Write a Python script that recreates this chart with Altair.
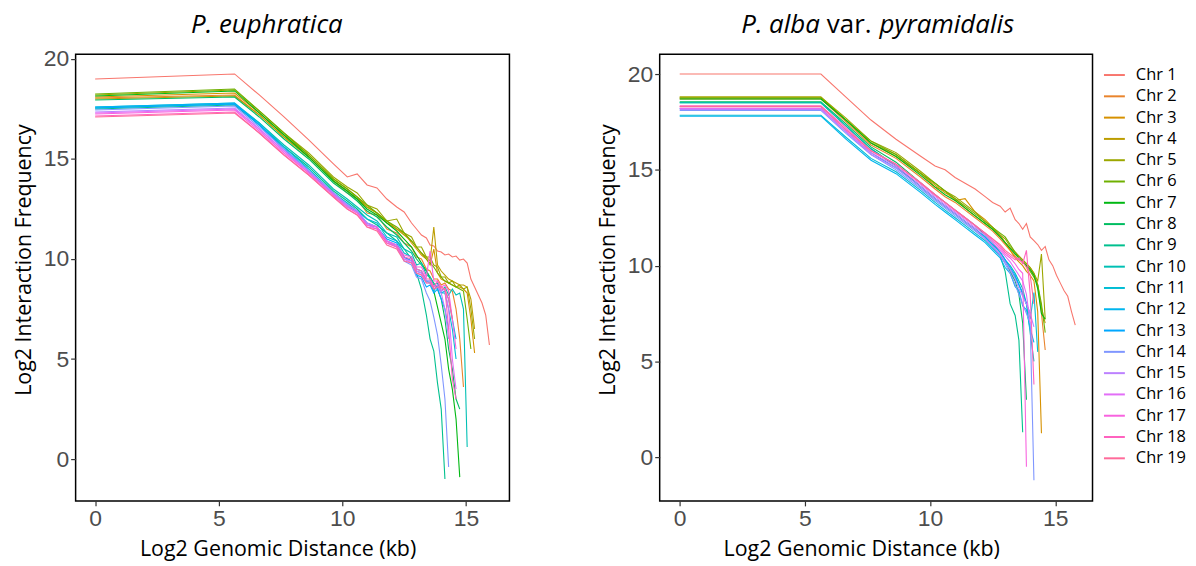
import math
import pandas as pd
import altair as alt

# shared x grid (log2 genomic distance, kb)
XG = [0, 5.64, 6.64, 7.64, 8.64, 9.64, 10.2, 10.6, 11.0, 11.4, 11.8, 12.2, 12.5, 12.8,
      13.0, 13.2, 13.4, 13.55, 13.7, 13.85, 14.0, 14.15, 14.3, 14.45, 14.6, 14.75, 14.9,
      15.05, 15.2, 15.35, 15.5, 15.65, 15.8, 15.95]

CHR = [f"Chr {i}" for i in range(1, 20)]

# P. euphratica : log2 interaction frequency per chromosome
EU = [
    [19.0, 19.25, 18.2, 17.1, 15.95, 14.75, 14.1, 14.25, 13.7, 13.55, 13.0, 12.6, 12.35, 11.8, 11.5, 11.2, 11.05, 10.7, 10.65, 10.4, 10.35, 10.2, 10.25, 10.1, 10.15, 9.95, 10.0, 9.8, 9.0, 8.6, 8.2, 7.8, 7.2, 5.7],
    [18.05, 18.2, 17.2, 16.1, 15.1, 13.9, 13.3, 13.0, 12.3, 12.2, 11.5, 11.3, 10.8, 10.6, 10.1, 10.0, 9.5, 9.4, 9.0, 9.0, 8.7, 8.8, 8.5, 8.4, 7.5, 6.0, 3.6],
    [18.1, 18.3, 17.3, 16.2, 15.2, 14.0, 13.5, 13.1, 12.6, 12.3, 11.8, 11.5, 11.3, 10.8, 10.5, 10.2, 10.0, 9.7, 10.5, 9.3, 9.0, 8.9, 8.8, 8.7, 8.6, 8.6, 8.5, 8.3, 7.0, 5.3],
    [18.0, 18.15, 17.2, 16.1, 15.1, 13.9, 13.4, 13.0, 12.6, 12.3, 11.9, 11.5, 11.2, 10.9, 10.6, 10.3, 10.1, 9.9, 11.6, 9.7, 9.4, 9.2, 9.0, 8.9, 8.8, 8.7, 8.7, 8.6, 8.0, 6.5],
    [18.2, 18.45, 17.4, 16.3, 15.3, 14.1, 13.6, 13.3, 12.7, 12.5, 11.9, 12.0, 11.3, 11.1, 10.6, 10.6, 10.1, 10.1, 9.7, 9.6, 9.1, 9.1, 8.8, 8.9, 8.6, 8.7, 8.5, 8.6, 7.5, 6.0],
    [18.25, 18.5, 17.4, 16.3, 15.2, 14.0, 13.5, 13.1, 12.7, 12.3, 11.9, 11.6, 11.3, 10.9, 10.6, 10.3, 10.0, 9.8, 9.6, 9.3, 9.1, 8.9, 8.8, 8.7, 8.6, 8.5, 8.4, 7.0, 5.5],
    [18.15, 18.4, 17.3, 16.2, 15.1, 13.9, 13.4, 13.0, 12.5, 12.2, 11.8, 11.4, 11.0, 10.6, 10.2, 9.8, 9.4, 9.0, 8.4, 7.6, 6.8, 6.0, 4.5, 3.5, 2.0, -0.9],
    [17.95, 18.1, 17.1, 16.0, 15.0, 13.8, 13.3, 12.9, 12.4, 12.1, 11.6, 11.2, 10.8, 10.4, 10.0, 9.7, 9.4, 9.1, 8.8, 8.5, 8.0, 7.0, 5.5, 4.5, 3.0, 2.5],
    [17.5, 17.7, 16.7, 15.6, 14.6, 13.4, 12.9, 12.5, 12.0, 11.7, 11.3, 10.9, 10.5, 10.0, 9.3, 8.5, 7.2, 6.0, 5.4, 3.8, 2.5, -1.0],
    [17.55, 17.75, 16.8, 15.7, 14.7, 13.5, 13.0, 12.6, 12.2, 11.9, 11.3, 11.1, 10.5, 10.3, 9.7, 9.8, 9.2, 9.1, 8.7, 8.8, 8.4, 8.6, 8.2, 8.5, 8.2, 8.3, 7.5, 0.6],
    [17.6, 17.8, 16.8, 15.6, 14.5, 13.3, 12.8, 12.4, 12.0, 11.8, 11.1, 10.9, 10.3, 10.1, 9.5, 9.4, 8.9, 8.8, 8.4, 8.7, 8.3, 8.3, 7.5, 6.5, 5.0],
    [17.6, 17.8, 16.7, 15.5, 14.4, 13.2, 12.6, 12.4, 11.7, 11.6, 10.9, 10.7, 10.1, 9.9, 9.4, 9.3, 8.9, 8.9, 8.5, 8.6, 8.3, 8.4, 8.0, 7.0, 6.0],
    [17.55, 17.75, 16.7, 15.5, 14.4, 13.3, 12.7, 12.4, 11.8, 11.6, 11.0, 10.8, 10.1, 9.9, 9.2, 9.1, 8.6, 8.7, 8.3, 8.5, 8.0, 7.5, 6.5],
    [17.45, 17.65, 16.6, 15.5, 14.4, 13.3, 12.7, 12.4, 11.8, 11.6, 10.9, 10.6, 9.9, 9.7, 9.1, 9.0, 8.3, 7.9, 7.1, 6.2, 4.7, 3.0, -0.4],
    [17.35, 17.55, 16.5, 15.4, 14.4, 13.3, 12.7, 12.4, 11.8, 11.6, 10.9, 10.6, 10.0, 9.8, 9.3, 9.2, 8.8, 8.8, 8.5, 8.6, 8.3, 7.5, 6.0],
    [17.3, 17.5, 16.5, 15.4, 14.3, 13.2, 12.6, 12.3, 11.7, 11.5, 10.8, 10.6, 10.0, 9.9, 9.4, 9.3, 8.9, 8.9, 8.6, 8.7, 8.4, 8.5, 7.5, 5.0, 3.5],
    [17.25, 17.45, 16.4, 15.3, 14.3, 13.2, 12.6, 12.3, 11.7, 11.6, 10.9, 10.7, 10.2, 10.1, 9.6, 9.6, 9.1, 10.4, 8.9, 8.9, 8.6, 8.7, 8.4, 7.0, 5.5],
    [17.15, 17.35, 16.3, 15.2, 14.2, 13.1, 12.5, 12.2, 11.6, 11.5, 10.8, 10.6, 10.1, 10.0, 9.5, 9.4, 9.0, 9.0, 8.6, 8.9, 8.5, 8.5, 6.5, 4.0, 3.0],
    [17.1, 17.3, 16.3, 15.2, 14.2, 13.1, 12.5, 12.2, 11.6, 11.4, 10.7, 10.5, 9.9, 9.8, 9.3, 9.2, 8.8, 8.8, 8.5, 8.6, 8.6, 8.5, 8.0, 7.0],
]

# P. alba var. pyramidalis
AL = [
    [20.0, 20.0, 18.8, 17.6, 16.6, 15.7, 15.2, 15.0, 14.6, 14.3, 14.0, 13.6, 13.3, 13.1, 12.8, 13.0, 12.4, 12.2, 11.9, 12.2, 11.5, 11.3, 11.1, 10.8, 11.0, 10.3, 10.0, 9.5, 9.1, 8.7, 8.4, 7.6, 6.9],
    [18.7, 18.7, 17.5, 16.3, 15.6, 14.6, 14.0, 13.6, 13.3, 12.9, 12.5, 12.1, 11.8, 11.4, 11.1, 10.8, 10.5, 10.3, 10.2, 10.0, 9.8, 9.5, 9.0, 7.5, 5.6],
    [18.75, 18.75, 17.6, 16.4, 15.7, 14.8, 14.1, 13.9, 13.4, 13.5, 12.8, 12.4, 12.0, 11.6, 11.2, 10.8, 10.4, 10.2, 10.0, 9.7, 9.5, 9.2, 7.6, 1.25],
    [18.8, 18.8, 17.6, 16.4, 15.8, 14.8, 14.2, 13.8, 13.5, 13.0, 12.6, 12.2, 11.9, 11.5, 11.2, 10.9, 10.7, 10.5, 10.3, 10.1, 9.9, 9.6, 9.0, 7.8, 7.0],
    [18.8, 18.8, 17.7, 16.5, 15.9, 14.9, 14.3, 13.9, 13.6, 13.2, 12.8, 12.3, 12.0, 11.6, 11.4, 11.0, 10.7, 10.5, 10.3, 10.1, 9.9, 9.6, 9.2, 10.6, 7.2],
    [18.75, 18.75, 17.6, 16.5, 15.8, 14.8, 14.3, 13.9, 13.5, 13.1, 12.7, 12.3, 12.0, 11.7, 11.5, 11.1, 10.7, 10.4, 10.2, 10.0, 9.7, 9.4, 9.0, 8.0, 6.5],
    [18.7, 18.7, 17.6, 16.4, 15.7, 14.7, 14.1, 13.7, 13.4, 13.0, 12.6, 12.2, 11.9, 11.5, 11.2, 10.9, 10.6, 10.4, 10.2, 10.0, 9.8, 9.5, 8.8, 7.5, 7.2],
    [18.55, 18.55, 17.4, 16.2, 15.4, 14.3, 13.7, 13.3, 12.9, 12.5, 12.1, 11.6, 11.2, 10.7, 10.3, 9.7, 9.2, 8.5, 7.0, 3.0],
    [18.5, 18.5, 17.3, 16.1, 15.2, 14.1, 13.5, 13.1, 12.7, 12.3, 11.9, 11.4, 11.0, 10.5, 9.7, 8.0, 7.4, 6.1, 1.3],
    [18.5, 18.5, 17.3, 16.1, 15.2, 14.1, 13.5, 13.1, 12.7, 12.3, 11.9, 11.5, 11.1, 10.7, 10.3, 10.0, 9.6, 9.2, 8.8, 8.0, 6.5, 5.0],
    [17.85, 17.85, 16.7, 15.6, 14.9, 13.9, 13.3, 12.9, 12.5, 12.1, 11.7, 11.3, 10.9, 10.5, 10.2, 9.8, 9.4, 9.0, 8.6, 8.0, 7.2, 8.6, 5.5],
    [17.8, 17.8, 16.6, 15.5, 14.8, 13.8, 13.2, 12.8, 12.4, 12.0, 11.6, 11.2, 10.8, 10.4, 9.9, 9.6, 8.9, 8.7, 7.9, 7.7, 6.7, 6.0],
    [18.2, 18.2, 17.0, 15.9, 15.1, 14.1, 13.5, 13.1, 12.7, 12.3, 11.9, 11.5, 11.1, 10.7, 10.3, 9.9, 9.5, 9.0, 8.5, 8.0, 7.5],
    [18.1, 18.1, 16.9, 15.8, 15.0, 14.0, 13.4, 13.0, 12.6, 12.2, 11.8, 11.4, 11.0, 10.5, 10.1, 9.6, 9.0, 8.5, 8.0, 7.5, 7.0, -1.2],
    [18.15, 18.15, 17.0, 15.8, 15.1, 14.1, 13.5, 13.1, 12.7, 12.3, 11.9, 11.4, 11.0, 10.6, 10.2, 9.8, 9.3, 8.8, 8.4, 8.0, 7.5, 6.8],
    [18.2, 18.2, 17.0, 15.9, 15.2, 14.2, 13.6, 13.2, 12.8, 12.4, 12.0, 11.6, 11.2, 10.8, 10.5, 10.2, 9.8, 9.5, 9.2, 8.5, 7.0],
    [18.3, 18.3, 17.1, 16.0, 15.3, 14.3, 13.7, 13.3, 12.9, 12.5, 12.1, 11.7, 11.3, 10.9, 10.6, 10.4, 10.1, 9.8, 9.6, -0.5],
    [18.35, 18.35, 17.2, 16.0, 15.3, 14.3, 13.7, 13.3, 12.9, 12.5, 12.1, 11.7, 11.4, 11.0, 10.7, 10.5, 10.3, 10.4, 10.1, 10.8, 8.5, 3.8],
    [18.3, 18.3, 17.1, 16.0, 15.3, 14.3, 13.7, 13.3, 12.9, 12.5, 12.1, 11.7, 11.4, 11.1, 10.8, 10.6, 10.4, 10.3, 10.2, 9.9, 9.5, 8.0],
]


def hcl_hex(h, c=100.0, l=65.0):
    hr = math.radians(h)
    U, V = c * math.cos(hr), c * math.sin(hr)
    Xn, Yn, Zn = 95.047, 100.0, 108.883
    Y = Yn * ((l + 16) / 116) ** 3
    den = Xn + 15 * Yn + 3 * Zn
    un, vn = 4 * Xn / den, 9 * Yn / den
    u, v = U / (13 * l) + un, V / (13 * l) + vn
    X = 9.0 * Y * u / (4 * v)
    Z = -X / 3 - 5 * Y + 3 * Y / v
    X, Y, Z = X / 100, Y / 100, Z / 100
    rgb = [3.240479 * X - 1.537150 * Y - 0.498535 * Z,
           -0.969256 * X + 1.875992 * Y + 0.041556 * Z,
           0.055648 * X - 0.204043 * Y + 1.057311 * Z]
    out = []
    for t in rgb:
        t = 1.055 * t ** (1 / 2.4) - 0.055 if t > 0.0031308 else 12.92 * t
        out.append(int(round(min(max(t, 0), 1) * 255)))
    return "#%02X%02X%02X" % tuple(out)


COLORS = [hcl_hex(15 + i * 360 / 19) for i in range(19)]


def long_df(series):
    rows = []
    for name, ys in zip(CHR, series):
        for x, y in zip(XG, ys):
            rows.append({"chr": name, "x": x, "y": y})
    return pd.DataFrame(rows)


FONT = "Open Sans"
W_L, W_R, H = 436, 435, 449


def panel(series, xdom, ydom, w, h, title_parts):
    lines = alt.Chart(long_df(series)).mark_line(strokeWidth=1.1).encode(
        x=alt.X("x:Q", scale=alt.Scale(domain=xdom, nice=False, zero=False),
                axis=alt.Axis(values=[0, 5, 10, 15], title="Log2 Genomic Distance (kb)",
                              titleX=w / 2 - 15)),
        y=alt.Y("y:Q", scale=alt.Scale(domain=ydom, nice=False, zero=False),
                axis=alt.Axis(values=[0, 5, 10, 15, 20], title="Log2 Interaction Frequency",
                              titleY=h / 2 - 18)),
        color=alt.Color("chr:N", scale=alt.Scale(domain=CHR, range=COLORS),
                        legend=alt.Legend(title=None)),
        order=alt.Order("x:Q"),
    )
    layers = [lines]
    for text, px, italic in title_parts:
        layers.append(
            alt.Chart(pd.DataFrame({"t": [text]})).mark_text(
                font=FONT, fontSize=26, fontStyle="italic" if italic else "normal",
                align="left", baseline="middle", color="black"
            ).encode(text="t:N", x=alt.value(px), y=alt.value(-29))
        )
    return alt.layer(*layers).properties(width=w, height=h)


left = panel(EU, [-0.79, 16.76], [-2.09, 20.24], W_L, H,
             [("P. euphratica", 116, True)])
right = panel(AL, [-0.8, 16.49], [-2.28, 21.04], W_R, H,
              [("P. alba", 82, True), ("var.", 168, False), ("pyramidalis", 221, True)])

chart = alt.hconcat(left, right, spacing=86).properties(
    padding={"left": 12, "top": 10, "right": 0, "bottom": 0}
).configure_view(
    stroke="black", strokeWidth=1.5
).configure_axis(
    grid=False, domain=False, ticks=True, tickColor="#333333", tickSize=5, tickWidth=1.2,
    labelFont="Liberation Sans", labelFontSize=23, labelColor="#4D4D4D", labelPadding=2,
    titleFont=FONT, titleFontSize=21.5, titleFontWeight="normal", titleColor="black",
    titlePadding=8,
).configure_legend(
    orient="right", offset=0, padding=9.5, symbolType="stroke", symbolSize=441,
    symbolStrokeWidth=2, labelFont=FONT, labelFontSize=16.5, labelColor="black",
    rowPadding=1.4, labelOffset=10,
)

chart.save("out.html", embed_options={"renderer": "svg", "actions": False})
